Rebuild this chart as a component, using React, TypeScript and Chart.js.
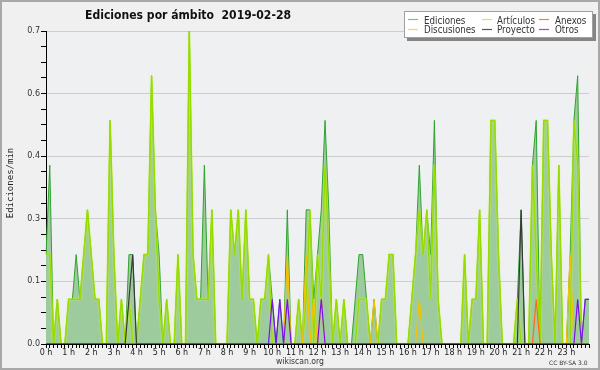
import React, { useEffect, useRef } from 'react';
import { Chart, registerables } from 'chart.js';

Chart.register(...registerables);

// 10-minute slots from 00:00 to 24:00
const slotMinutes: number[] = Array.from({ length: 145 }, (_, i) => i * 10);

const hourLabels = [
  '0 h', '1 h', '2 h', '3 h', '4 h', '5 h', '6 h', '7 h', '8 h', '9 h', '10 h', '11 h',
  '12 h', '13 h', '14 h', '15 h', '16 h', '17 h', '18 h', '19 h', '20 h', '21 h', '22 h', '23 h',
];

const yTickLabels = ['0.0', '0.1', '0.3', '0.4', '0.6', '0.7'];

const ediciones = [
  0.2, 0.4, 0, 0.1, 0, 0, 0.1, 0.1, 0.2, 0.1,
  0.2, 0.3, 0.2, 0.1, 0.1, 0, 0, 0.5, 0.2, 0,
  0.1, 0, 0.2, 0.2, 0, 0.1, 0.2, 0.2, 0.6, 0.3,
  0.2, 0, 0.1, 0, 0, 0.2, 0, 0, 0.7, 0.2,
  0.1, 0.1, 0.4, 0.1, 0.3, 0, 0, 0, 0, 0.3,
  0.2, 0.3, 0.1, 0.3, 0.1, 0.1, 0, 0.1, 0.1, 0.2,
  0.1, 0, 0.1, 0, 0.3, 0, 0, 0.1, 0, 0.3,
  0.3, 0.1, 0.2, 0.3, 0.5, 0.3, 0, 0.1, 0, 0.1,
  0, 0, 0.1, 0.2, 0.2, 0.1, 0, 0.1, 0, 0.1,
  0.1, 0.2, 0.2, 0, 0, 0, 0, 0.1, 0.2, 0.4,
  0.2, 0.3, 0.2, 0.5, 0.1, 0, 0, 0, 0, 0,
  0, 0.2, 0, 0.1, 0.1, 0.3, 0, 0, 0.5, 0.5,
  0.2, 0, 0, 0, 0, 0.1, 0.3, 0, 0, 0.4,
  0.5, 0, 0.5, 0.5, 0.2, 0, 0.4, 0, 0, 0.2,
  0.5, 0.6, 0, 0.1, 0.1,
];

const articulos = [
  0.2, 0.2, 0, 0.1, 0, 0, 0.1, 0.1, 0.1, 0.1,
  0.2, 0.3, 0.2, 0.1, 0.1, 0, 0, 0.5, 0.2, 0,
  0.1, 0, 0.1, 0, 0, 0.1, 0.2, 0.2, 0.6, 0.3,
  0.1, 0, 0.1, 0, 0, 0.2, 0, 0, 0.7, 0.2,
  0.1, 0.1, 0.1, 0.1, 0.3, 0, 0, 0, 0, 0.3,
  0.2, 0.3, 0.1, 0.3, 0.1, 0.1, 0, 0.1, 0.1, 0.2,
  0, 0, 0, 0, 0, 0, 0, 0.1, 0, 0.1,
  0.3, 0, 0.2, 0.1, 0.4, 0.2, 0, 0.1, 0, 0.1,
  0, 0, 0, 0.1, 0.1, 0.1, 0, 0, 0, 0.1,
  0.1, 0.2, 0.2, 0, 0, 0, 0, 0.1, 0.2, 0.3,
  0.2, 0.3, 0.1, 0.4, 0.1, 0, 0, 0, 0, 0,
  0, 0.2, 0, 0.1, 0.1, 0.3, 0, 0, 0.5, 0.5,
  0.2, 0, 0, 0, 0, 0.1, 0, 0, 0, 0.4,
  0.2, 0, 0.5, 0.5, 0.2, 0, 0.4, 0, 0, 0,
  0.5, 0.4, 0, 0, 0,
];

const anexos = [
  0, 0, 0, 0, 0, 0, 0, 0, 0, 0,
  0, 0, 0, 0, 0, 0, 0, 0, 0, 0,
  0, 0, 0, 0, 0, 0, 0, 0, 0, 0,
  0, 0, 0, 0, 0, 0, 0, 0, 0, 0,
  0, 0, 0, 0, 0, 0, 0, 0, 0, 0,
  0, 0, 0, 0, 0, 0, 0, 0, 0, 0,
  0, 0, 0, 0, 0, 0, 0, 0, 0, 0,
  0, 0, 0, 0, 0, 0, 0, 0, 0, 0,
  0, 0, 0, 0, 0, 0, 0, 0, 0, 0,
  0, 0, 0, 0, 0, 0, 0, 0, 0, 0,
  0, 0, 0, 0, 0, 0, 0, 0, 0, 0,
  0, 0, 0, 0, 0, 0, 0, 0, 0, 0,
  0, 0, 0, 0, 0, 0, 0, 0, 0, 0,
  0.1, 0, 0, 0, 0, 0, 0, 0, 0, 0,
  0, 0, 0, 0, 0,
];

const discusiones = [
  0, 0, 0, 0, 0, 0, 0, 0, 0, 0,
  0, 0, 0, 0, 0, 0, 0, 0, 0, 0,
  0, 0, 0, 0, 0, 0, 0, 0, 0, 0,
  0, 0, 0, 0, 0, 0, 0, 0, 0, 0,
  0, 0, 0, 0, 0, 0, 0, 0, 0, 0,
  0, 0, 0, 0, 0, 0, 0, 0, 0, 0,
  0, 0, 0, 0, 0.2, 0, 0, 0, 0, 0.2,
  0, 0.1, 0, 0.1, 0, 0, 0, 0, 0, 0,
  0, 0, 0, 0, 0, 0, 0, 0.1, 0, 0,
  0, 0, 0, 0, 0, 0, 0, 0, 0, 0.1,
  0, 0, 0, 0, 0, 0, 0, 0, 0, 0,
  0, 0, 0, 0, 0, 0, 0, 0, 0, 0,
  0, 0, 0, 0, 0, 0, 0, 0, 0, 0,
  0, 0, 0, 0, 0, 0, 0, 0, 0, 0.2,
  0, 0, 0, 0, 0,
];

const proyecto = [
  0, 0, 0, 0, 0, 0, 0, 0, 0, 0,
  0, 0, 0, 0, 0, 0, 0, 0, 0, 0,
  0, 0, 0.1, 0.2, 0, 0, 0, 0, 0, 0,
  0, 0, 0, 0, 0, 0, 0, 0, 0, 0,
  0, 0, 0, 0, 0, 0, 0, 0, 0, 0,
  0, 0, 0, 0, 0, 0, 0, 0, 0, 0,
  0, 0, 0, 0, 0, 0, 0, 0, 0, 0,
  0, 0, 0, 0, 0, 0, 0, 0, 0, 0,
  0, 0, 0, 0, 0, 0, 0, 0, 0, 0,
  0, 0, 0, 0, 0, 0, 0, 0, 0, 0,
  0, 0, 0, 0, 0, 0, 0, 0, 0, 0,
  0, 0, 0, 0, 0, 0, 0, 0, 0, 0,
  0, 0, 0, 0, 0, 0, 0.3, 0, 0, 0,
  0, 0, 0, 0, 0, 0, 0, 0, 0, 0,
  0, 0, 0, 0, 0,
];

const otros = [
  0, 0, 0, 0, 0, 0, 0, 0, 0, 0,
  0, 0, 0, 0, 0, 0, 0, 0, 0, 0,
  0, 0, 0, 0, 0, 0, 0, 0, 0, 0,
  0, 0, 0, 0, 0, 0, 0, 0, 0, 0,
  0, 0, 0, 0, 0, 0, 0, 0, 0, 0,
  0, 0, 0, 0, 0, 0, 0, 0, 0, 0,
  0.1, 0, 0.1, 0, 0.1, 0, 0, 0, 0, 0,
  0, 0, 0, 0.1, 0, 0, 0, 0, 0, 0,
  0, 0, 0, 0, 0, 0, 0, 0, 0, 0,
  0, 0, 0, 0, 0, 0, 0, 0, 0, 0,
  0, 0, 0, 0, 0, 0, 0, 0, 0, 0,
  0, 0, 0, 0, 0, 0, 0, 0, 0, 0,
  0, 0, 0, 0, 0, 0, 0, 0, 0, 0,
  0, 0, 0, 0, 0, 0, 0, 0, 0, 0,
  0, 0.1, 0, 0.1, 0.1,
];

const TITLE = 'Ediciones por ámbito  2019-02-28';
const Y_TITLE = 'Ediciones/min';

const COLORS = {
  ediciones: '#2fa32f',
  edicionesFill: '#9ecb9e',
  articulos: '#96dc00',
  anexos: '#ff6a1a',
  discusiones: '#f2c200',
  proyecto: '#3a3a3a',
  otros: '#7a10f0',
};

const legendItems = [
  { label: 'Ediciones', color: '#6fcc6f', col: 0, row: 0 },
  { label: 'Discusiones', color: '#ffd840', col: 0, row: 1 },
  { label: 'Artículos', color: '#c4f040', col: 1, row: 0 },
  { label: 'Proyecto', color: '#555555', col: 1, row: 1 },
  { label: 'Anexos', color: '#ff7a4a', col: 2, row: 0 },
  { label: 'Otros', color: '#9a44ff', col: 2, row: 1 },
];

const decorPlugin = {
  id: 'decor',
  beforeDraw(chart: any) {
    const { ctx, chartArea } = chart;
    ctx.save();
    ctx.fillStyle = '#f0f0f0';
    ctx.fillRect(0, 0, chart.width, chart.height);
    ctx.fillStyle = '#eef0f2';
    ctx.fillRect(chartArea.left, chartArea.top, chartArea.right - chartArea.left, chartArea.bottom - chartArea.top);
    ctx.restore();
  },
  beforeDatasetDraw(chart: any, args: any) {
    if (args.index === 1) {
      chart.ctx.save();
      chart.ctx.shadowColor = 'rgba(225,250,90,0.85)';
      chart.ctx.shadowBlur = 1.5;
    }
  },
  afterDatasetDraw(chart: any, args: any) {
    if (args.index === 1) chart.ctx.restore();
  },
  afterDraw(chart: any) {
    const { ctx } = chart;
    ctx.save();
    // outer frame
    ctx.strokeStyle = '#a8a8a8';
    ctx.lineWidth = 2;
    ctx.strokeRect(1, 1, chart.width - 2, chart.height - 2);

    // title
    ctx.fillStyle = '#111';
    ctx.font = "bold 12px 'DejaVu Sans', sans-serif";
    ctx.textBaseline = 'alphabetic';
    ctx.textAlign = 'left';
    ctx.fillText(TITLE, 85, 19, 206);

    // y axis title
    ctx.save();
    ctx.translate(13, 183);
    ctx.rotate(-Math.PI / 2);
    ctx.font = "9px 'DejaVu Sans Mono', monospace";
    ctx.textAlign = 'center';
    ctx.fillStyle = '#222';
    ctx.fillText(Y_TITLE, 0, 0);
    ctx.restore();

    // footer texts
    ctx.font = "8px 'DejaVu Sans', sans-serif";
    ctx.fillStyle = '#333';
    ctx.textAlign = 'left';
    ctx.fillText('wikiscan.org', 276, 364, 48);
    ctx.font = "6px 'DejaVu Sans', sans-serif";
    ctx.fillText('CC BY-SA 3.0', 549, 365, 40);

    // legend
    const bx = 404, by = 11, bw = 189, bh = 27;
    ctx.fillStyle = '#858585';
    ctx.fillRect(bx + 3, by + 3, bw, bh);
    ctx.fillStyle = '#ffffff';
    ctx.fillRect(bx, by, bw, bh);
    ctx.strokeStyle = '#a0a0a0';
    ctx.lineWidth = 1;
    ctx.strokeRect(bx + 0.5, by + 0.5, bw - 1, bh - 1);
    const colLine = [408, 482, 539];
    const colText = [424, 497, 555];
    const rowY = [19.5, 29.5];
    const rowBase = [23.5, 33];
    ctx.font = "10px 'DejaVu Sans', sans-serif";
    legendItems.forEach((it) => {
      ctx.strokeStyle = it.color;
      ctx.lineWidth = 1.2;
      ctx.beginPath();
      ctx.moveTo(colLine[it.col], rowY[it.row]);
      ctx.lineTo(colLine[it.col] + 10, rowY[it.row]);
      ctx.stroke();
      ctx.fillStyle = '#333';
      const w = ctx.measureText(it.label).width;
      ctx.fillText(it.label, colText[it.col], rowBase[it.row], w * 0.87);
    });
    ctx.restore();
  },
};

export default function App() {
  const ref = useRef<HTMLCanvasElement>(null);

  useEffect(() => {
    const canvas = ref.current;
    if (!canvas) return;
    const chart = new Chart(canvas, {
      type: 'line',
      data: {
        labels: slotMinutes,
        datasets: [
          {
            label: 'Ediciones',
            data: ediciones,
            borderColor: COLORS.ediciones,
            backgroundColor: COLORS.edicionesFill,
            borderWidth: 1,
            fill: 'origin',
            order: 10,
          },
          {
            label: 'Artículos',
            data: articulos,
            borderColor: COLORS.articulos,
            borderWidth: 1.5,
            fill: false,
            order: 9,
          },
          {
            label: 'Anexos',
            data: anexos,
            borderColor: COLORS.anexos,
            borderWidth: 1.2,
            fill: false,
            order: 4,
          },
          {
            label: 'Discusiones',
            data: discusiones,
            borderColor: COLORS.discusiones,
            borderWidth: 1.2,
            fill: false,
            order: 5,
          },
          {
            label: 'Proyecto',
            data: proyecto,
            borderColor: COLORS.proyecto,
            borderWidth: 1.2,
            fill: false,
            order: 3,
          },
          {
            label: 'Otros',
            data: otros,
            borderColor: COLORS.otros,
            borderWidth: 1.2,
            fill: false,
            order: 2,
          },
        ],
      },
      options: {
        responsive: false,
        animation: false,
        devicePixelRatio: 1,
        layout: { padding: { top: 31, right: 11, left: 0, bottom: 0 } },
        elements: { point: { radius: 0, hoverRadius: 0 }, line: { tension: 0 } },
        plugins: {
          legend: { display: false },
          tooltip: { enabled: false },
          title: { display: false },
        },
        scales: {
          x: {
            type: 'category',
            offset: false,
            z: 1,
            grid: { drawOnChartArea: false, tickLength: 4, tickColor: '#000', lineWidth: 1 },
            border: { color: '#000', width: 1 },
            ticks: {
              autoSkip: false,
              maxRotation: 0,
              minRotation: 0,
              padding: 0,
              color: '#222',
              font: { family: "'DejaVu Sans', sans-serif", size: 8 },
              callback: (_v: any, i: number) => (i % 6 === 0 && i / 6 < hourLabels.length ? hourLabels[i / 6] : ''),
            },
            afterFit: (s: any) => {
              s.height = 26;
            },
          },
          y: {
            type: 'linear',
            min: 0,
            max: 0.7,
            grid: {
              color: (c: any) => (c.index % 4 === 0 ? '#cdcdcd' : 'rgba(0,0,0,0)'),
              tickColor: '#000',
              tickLength: 5,
              lineWidth: 1,
            },
            border: { color: '#000', width: 1 },
            ticks: {
              stepSize: 0.035,
              maxTicksLimit: 1000,
              autoSkip: false,
              padding: 1,
              color: '#333',
              font: { family: "'DejaVu Sans', sans-serif", size: 8 },
              callback: (_v: any, i: number) => (i % 4 === 0 ? yTickLabels[i / 4] ?? '' : ''),
            },
            afterFit: (s: any) => {
              s.width = 46;
            },
          },
        },
      },
      plugins: [decorPlugin],
    } as any);
    return () => chart.destroy();
  }, []);

  return (
    <div style={{ position: 'fixed', left: 0, top: 0, width: 600, height: 370 }}>
      <canvas ref={ref} width={600} height={370} style={{ display: 'block', width: 600, height: 370 }} />
    </div>
  );
}
